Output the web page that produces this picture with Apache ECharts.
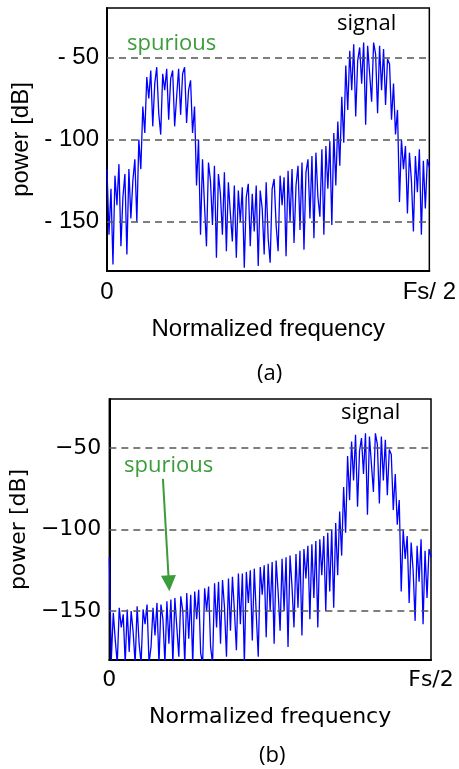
<!DOCTYPE html>
<html>
<head>
<meta charset="utf-8">
<script src="https://cdn.jsdelivr.net/npm/echarts@6.0.0/dist/echarts.min.js"></script>
<style>
  html, body { margin: 0; padding: 0; background: #fff; }
  #chart { width: 459px; height: 769px; }
</style>
</head>
<body>
<div id="chart"></div>
<script>
// 스펙트럼 값 (dB) - 그림에서 눈으로 읽은 값, 인덱스 = 주파수 위치
// (a) 왼쪽 부분: 스퓨리어스 봉우리와 골짜기
const spurLeftA = [
  -118, -158, -130, -176, -122, -140, -115, -165, -135, -121, -170, -118, -148, -125,
  -112, -150, -100, -118, -80,
  -96, -62, -75, -58, -92, -66, -56, -84, -97, -60, -70, -57, -88, -63, -58, -92, -74, -57, -85, -60, -56, -90, -70,
  -64, -96, -80, -128, -100, -158,
  -112, -140, -165, -114, -125, -152, -116, -172, -121, -133, -158, -120, -168, -126, -145, -162,
  -128, -172, -131, -150, -129, -178, -135, -127, -165, -133, -156, -128, -177, -131, -142, -170, -126, -160, -175, -130,
  -124, -152, -168, -122, -140, -123, -171, -119, -150, -118, -163, -128, -116, -155, -114, -167, -120, -112, -148, -110,
  -160, -108, -135, -147, -106, -158, -104, -130, -101, -152
];
// (b) 왼쪽 부분: 스퓨리어스가 사라진 잡음 바닥
const floorLeftB = [
  -117, -180, -151, -168, -182, -148, -160, -152, -182, -149, -175, -150, -163, -182, -147, -170,
  -182, -149, -158, -146, -182, -172, -148, -165, -145, -182, -146, -155, -182, -144, -170, -143,
  -182, -142, -160, -178, -141, -150, -182, -139, -167, -140, -182, -138, -155, -137, -176, -182,
  -136, -150, -135, -172, -182, -133, -160, -132, -170, -131, -148, -178, -130, -162, -129, -150,
  -174, -127, -158, -127, -182, -126, -145, -125, -168, -124, -152, -178, -123, -140, -122, -166,
  -121, -150, -120, -170, -119, -138, -162, -118, -150, -117, -172, -116, -135, -160, -115, -148,
  -113, -165, -112, -130, -110, -155, -109, -142, -107, -160, -106, -128, -104, -150, -102, -138,
  -100, -148
];
// 두 그림에 공통인 신호 봉우리 부분
const signalBand = [
  -96, -128, -89, -116, -74, -102, -55, -82,
  -46, -70, -42, -86, -52, -44, -66, -41, -91, -43, -60, -77, -41, -48, -84, -43, -70, -45, -79, -51,
  -54, -88, -66, -97, -82,
  -138, -100, -118, -104, -145, -108, -125, -156, -110, -132, -106, -158, -113, -142, -112, -117
];
const specA = spurLeftA.concat(signalBand);
const specB = floorLeftB.concat(signalBand);

const gridLevels = [-50, -100, -150];
const yLabels = [-150, -100, -50];
const arrowFrom = [27, -69];
const arrowTo = [30, -133];

const xMax = specA.length - 1;
const toPoints = arr => arr.map((v, i) => [i, v]);

const blue = '#0000ff';
const green = '#3a9d3a';

function yAxisFor(gridIndex, font, size, fmt, gap) {
  return {
    gridIndex, type: 'value', min: -180, max: -20, interval: 10,
    name: 'power [dB]', nameLocation: 'middle', nameGap: gap,
    nameTextStyle: { fontFamily: font, fontSize: size, color: '#000' },
    axisLine: { show: true, lineStyle: { color: '#000', width: 2 } },
    axisTick: { show: false },
    splitLine: { show: false },
    axisLabel: {
      margin: 8, fontFamily: font, fontSize: size, color: '#000',
      formatter: v => yLabels.includes(v) ? fmt(v) : ''
    }
  };
}

function xAxisFor(gridIndex, font, size, endLabel) {
  return {
    gridIndex, type: 'value', min: 0, max: xMax, interval: xMax,
    name: 'Normalized frequency', nameLocation: 'middle', nameGap: 46,
    nameTextStyle: { fontFamily: font, fontSize: size, color: '#000' },
    axisLine: { show: true, onZero: false, lineStyle: { color: '#000', width: 2 } },
    axisTick: { show: false },
    splitLine: { show: false },
    axisLabel: {
      margin: 9, fontFamily: font, fontSize: size, color: '#000',
      showMinLabel: true, showMaxLabel: true,
      formatter: v => v === 0 ? '0' : endLabel
    }
  };
}

const gridLines = gridLevels.map(v => ({ yAxis: v }));

const option = {
  animation: false,
  backgroundColor: '#fff',
  grid: [
    { left: 107, top: 8, width: 325, height: 263, show: true, borderColor: '#000', borderWidth: 1.5 },
    { left: 107, top: 399, width: 324, height: 261, show: true, borderColor: '#000', borderWidth: 1.5 }
  ],
  xAxis: [
    xAxisFor(0, 'Liberation Sans', 24, 'Fs/ 2'),
    xAxisFor(1, 'DejaVu Sans', 22, 'Fs/2')
  ],
  yAxis: [
    yAxisFor(0, 'Liberation Sans', 24, v => '- ' + Math.abs(v), 72),
    yAxisFor(1, 'DejaVu Sans', 22, v => '\u2212' + Math.abs(v), 77)
  ],
  series: [
    {
      type: 'line', xAxisIndex: 0, yAxisIndex: 0, data: toPoints(specA),
      showSymbol: false, lineStyle: { color: blue, width: 1.3 }, clip: true,
      markLine: {
        silent: true, symbol: ['none', 'none'], label: { show: false },
        lineStyle: { color: '#555', type: [7, 5], width: 1.5 },
        data: gridLines
      }
    },
    {
      type: 'line', xAxisIndex: 1, yAxisIndex: 1, data: toPoints(specB),
      showSymbol: false, lineStyle: { color: blue, width: 1.3 }, clip: true,
      markLine: {
        silent: true, symbol: ['none', 'none'], label: { show: false },
        lineStyle: { color: '#555', type: [7, 5], width: 1.5 },
        data: gridLines.concat([[
          { coord: arrowFrom, symbol: 'none', lineStyle: { color: green, type: 'solid', width: 2 } },
          { coord: arrowTo, symbol: 'triangle', symbolSize: [15, 16] }
        ]])
      }
    }
  ],
  graphic: [
    { type: 'text', left: 127, top: 33, style: { text: 'spurious', fill: green, font: '22px "Open Sans"' } },
    { type: 'text', left: 337, top: 13, style: { text: 'signal', fill: '#000', font: '22px "Open Sans"' } },
    { type: 'text', left: 124, top: 455, style: { text: 'spurious', fill: green, font: '22px "Open Sans"' } },
    { type: 'text', left: 341, top: 402, style: { text: 'signal', fill: '#000', font: '22px "Open Sans"' } },
    { type: 'text', left: 257, top: 363, style: { text: '(a)', fill: '#000', font: '22px "Open Sans"' } },
    { type: 'text', left: 259, top: 745, style: { text: '(b)', fill: '#000', font: '22px "Open Sans"' } }
  ]
};

const chart = echarts.init(document.getElementById('chart'));
chart.setOption(option);
</script>
</body>
</html>
